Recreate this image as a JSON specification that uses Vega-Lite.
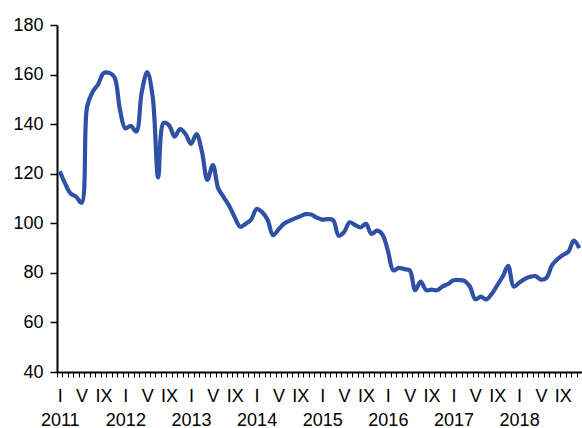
{
  "$schema": "https://vega.github.io/schema/vega-lite/v6.json",
  "autosize": {"type": "none"},
  "width": 525,
  "height": 347,
  "padding": {"left": 57, "top": 25, "right": 0, "bottom": 56},
  "background": "white",
  "config": {
    "view": {"stroke": null},
    "font": "Liberation Sans"
  },
  "data": {
    "values": [
      {"t": "2011-01", "v": 121}, {"t": "2011-02", "v": 116}, {"t": "2011-03", "v": 112}, {"t": "2011-04", "v": 110.7},
      {"t": "2011-05", "v": 108.3}, {"t": "2011-06", "v": 147}, {"t": "2011-07", "v": 153}, {"t": "2011-08", "v": 156},
      {"t": "2011-09", "v": 160.5}, {"t": "2011-10", "v": 160.7}, {"t": "2011-11", "v": 159}, {"t": "2011-12", "v": 146},
      {"t": "2012-01", "v": 138.3}, {"t": "2012-02", "v": 139.3}, {"t": "2012-03", "v": 137}, {"t": "2012-04", "v": 153},
      {"t": "2012-05", "v": 161}, {"t": "2012-06", "v": 151}, {"t": "2012-07", "v": 118.5}, {"t": "2012-08", "v": 140.5},
      {"t": "2012-09", "v": 139.5}, {"t": "2012-10", "v": 135}, {"t": "2012-11", "v": 138}, {"t": "2012-12", "v": 136},
      {"t": "2013-01", "v": 132}, {"t": "2013-02", "v": 136}, {"t": "2013-03", "v": 129}, {"t": "2013-04", "v": 117.5},
      {"t": "2013-05", "v": 123.5}, {"t": "2013-06", "v": 114}, {"t": "2013-07", "v": 110.5}, {"t": "2013-08", "v": 107},
      {"t": "2013-09", "v": 102.4}, {"t": "2013-10", "v": 98.6}, {"t": "2013-11", "v": 99.8}, {"t": "2013-12", "v": 101.5},
      {"t": "2014-01", "v": 105.8}, {"t": "2014-02", "v": 104.5}, {"t": "2014-03", "v": 101.4}, {"t": "2014-04", "v": 95.2},
      {"t": "2014-05", "v": 97.5}, {"t": "2014-06", "v": 99.8}, {"t": "2014-07", "v": 101}, {"t": "2014-08", "v": 102},
      {"t": "2014-09", "v": 102.8}, {"t": "2014-10", "v": 103.7}, {"t": "2014-11", "v": 103.5}, {"t": "2014-12", "v": 102.3},
      {"t": "2015-01", "v": 101.5}, {"t": "2015-02", "v": 101.7}, {"t": "2015-03", "v": 101.3}, {"t": "2015-04", "v": 95},
      {"t": "2015-05", "v": 96.5}, {"t": "2015-06", "v": 100.4}, {"t": "2015-07", "v": 99.3}, {"t": "2015-08", "v": 98.3},
      {"t": "2015-09", "v": 99.8}, {"t": "2015-10", "v": 95.7}, {"t": "2015-11", "v": 97}, {"t": "2015-12", "v": 95.5},
      {"t": "2016-01", "v": 89}, {"t": "2016-02", "v": 81}, {"t": "2016-03", "v": 82}, {"t": "2016-04", "v": 81.5},
      {"t": "2016-05", "v": 81}, {"t": "2016-06", "v": 73}, {"t": "2016-07", "v": 76.5}, {"t": "2016-08", "v": 73},
      {"t": "2016-09", "v": 73.2}, {"t": "2016-10", "v": 73}, {"t": "2016-11", "v": 74.5}, {"t": "2016-12", "v": 75.5},
      {"t": "2017-01", "v": 77}, {"t": "2017-02", "v": 77.1}, {"t": "2017-03", "v": 76.8}, {"t": "2017-04", "v": 74.5},
      {"t": "2017-05", "v": 69.3}, {"t": "2017-06", "v": 70.4}, {"t": "2017-07", "v": 69.3}, {"t": "2017-08", "v": 71.5},
      {"t": "2017-09", "v": 75}, {"t": "2017-10", "v": 78.5}, {"t": "2017-11", "v": 82.8}, {"t": "2017-12", "v": 74.5},
      {"t": "2018-01", "v": 76}, {"t": "2018-02", "v": 77.5}, {"t": "2018-03", "v": 78.4}, {"t": "2018-04", "v": 78.7},
      {"t": "2018-05", "v": 77.3}, {"t": "2018-06", "v": 78}, {"t": "2018-07", "v": 83}, {"t": "2018-08", "v": 85.5},
      {"t": "2018-09", "v": 87.2}, {"t": "2018-10", "v": 88.5}, {"t": "2018-11", "v": 93}, {"t": "2018-12", "v": 90}
    ]
  },
  "mark": {"type": "line", "color": "#2F51A5", "strokeWidth": 4.2, "interpolate": "catmull-rom", "clip": true},
  "encoding": {
    "x": {
      "field": "t",
      "type": "ordinal",
      "scale": {"type": "band", "paddingInner": 0, "paddingOuter": 0},
      "axis": {
        "title": null,
        "tickBand": "extent",
        "tickSize": 5,
        "tickColor": "black",
        "tickWidth": 1,
        "domainColor": "black",
        "domainWidth": 2,
        "labelAngle": 0,
        "labelOverlap": false,
        "labelBound": false,
        "labelFontSize": 18,
        "labelColor": "black",
        "labelPadding": 10,
        "labelLineHeight": 24,
        "labelBaseline": "top",
        "labelExpr": "substring(datum.value,5,7)=='01' ? ['I', substring(datum.value,0,4)] : substring(datum.value,5,7)=='05' ? 'V' : substring(datum.value,5,7)=='09' ? 'IX' : ''"
      }
    },
    "y": {
      "field": "v",
      "type": "quantitative",
      "scale": {"domain": [40, 180], "nice": false, "zero": false},
      "axis": {
        "title": null,
        "values": [40, 60, 80, 100, 120, 140, 160, 180],
        "grid": false,
        "tickSize": 7,
        "tickColor": "black",
        "tickWidth": 1.5,
        "domainColor": "black",
        "domainWidth": 2,
        "labelFontSize": 18,
        "labelColor": "black",
        "labelPadding": 7
      }
    }
  }
}
